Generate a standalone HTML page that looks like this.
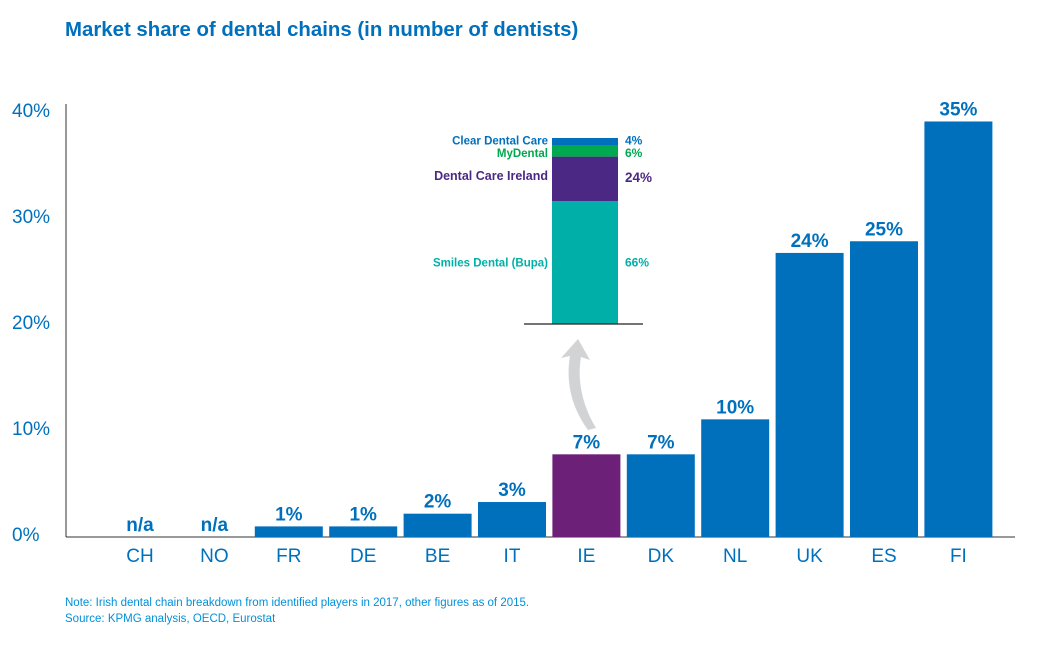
<!DOCTYPE html>
<html><head><meta charset="utf-8"><style>
body{margin:0;background:#fff;width:1040px;height:650px;overflow:hidden;font-family:"Liberation Sans",Arial,sans-serif}
</style></head><body>
<svg id="chart" width="1040" height="650" xmlns="http://www.w3.org/2000/svg" font-family="Liberation Sans, Arial, sans-serif">
<text x="65" y="36" font-size="20.4" font-weight="bold" fill="#0070bd">Market share of dental chains (in number of dentists)</text>
<g id="yaxis"></g><g id="bars"></g><g id="inset"></g>
<path d="M588,430 C570,405 566,380 570,356 L561,358 L578,339 L590,360 L581,357 C577,380 582,405 596,428 Z" fill="#d2d3d5"/>
<text x="65" y="606" font-size="11.5" fill="#0091da">Note: Irish dental chain breakdown from identified players in 2017, other figures as of 2015.</text>
<text x="65" y="622" font-size="11.5" fill="#0091da">Source: KPMG analysis, OECD, Eurostat</text>
</svg>
<script>
const categories=["CH","NO","FR","DE","BE","IT","IE","DK","NL","UK","ES","FI"];
const barValues=[0,0,1,1,2.2,3.3,7.8,7.8,11.1,26.8,27.9,39.2];
const barLabels=["n/a","n/a","1%","1%","2%","3%","7%","7%","10%","24%","25%","35%"];
const yTicks=[0,10,20,30,40];
const insetNames=["Smiles Dental (Bupa)","Dental Care Ireland","MyDental","Clear Dental Care"];
const insetValues=[66,24,6,4];
const insetColors=["#00b0a8","#4b2883","#00a84f","#0070bd"];
const NS="http://www.w3.org/2000/svg";
function mk(t,a,p){const e=document.createElementNS(NS,t);for(const k in a)e.setAttribute(k,a[k]);p.appendChild(e);return e;}
const y=v=>537-v*10.6;
const x=i=>140+i*74.4;
const ya=document.getElementById('yaxis');
let l=mk('line',{x1:66,y1:104,x2:66,y2:537,stroke:'#333','stroke-width':1},ya);


l=mk('line',{x1:66,y1:537,x2:1015,y2:537,stroke:'#333','stroke-width':1},ya);


yTicks.forEach(v=>{const t=mk('text',{x:12,y:y(v)+4,'font-size':19,fill:'#0070bd'},ya);t.textContent=v+'%';

});
const bg=document.getElementById('bars');
categories.forEach((c,i)=>{
 const col=c==='IE'?'#6d2077':'#0070bd';
 if(barValues[i]>0){const r=mk('rect',{x:x(i)-34,y:y(barValues[i]),width:68,height:537-y(barValues[i]),fill:col},bg);
 
 }
 const lb=mk('text',{x:x(i),y:y(barValues[i])-6,'font-size':19,'font-weight':'bold',fill:'#0070bd','text-anchor':'middle'},bg);lb.textContent=barLabels[i];
 
 
 const cl=mk('text',{x:x(i),y:562,'font-size':19,fill:'#0070bd','text-anchor':'middle'},bg);cl.textContent=c;
 
 
});
const ig=document.getElementById('inset');
const tot=insetValues.reduce((a,b)=>a+b,0);const H=186;let cur=324;
const labelShift=[0,-3,2,-1];
insetValues.forEach((v,i)=>{const h=v/tot*H;const top=cur-h;
 const r=mk('rect',{x:552,y:top,width:66,height:h,fill:insetColors[i]},ig);
 
 
 const mid=top+h/2+4+labelShift[i];
 const n=mk('text',{x:548,y:mid,'font-size':i===1?12.5:11.5,'font-weight':'bold',fill:insetColors[i],'text-anchor':'end'},ig);n.textContent=insetNames[i];
 
 
 const p=mk('text',{x:625,y:mid+(i===1?2:0),'font-size':i===1?13.5:12,'font-weight':'bold',fill:insetColors[i]},ig);p.textContent=v+'%';
 
 
 cur=top;});
l=mk('line',{x1:524,y1:324,x2:643,y2:324,stroke:'#222','stroke-width':1.2},ig);


</script>
</body></html>
